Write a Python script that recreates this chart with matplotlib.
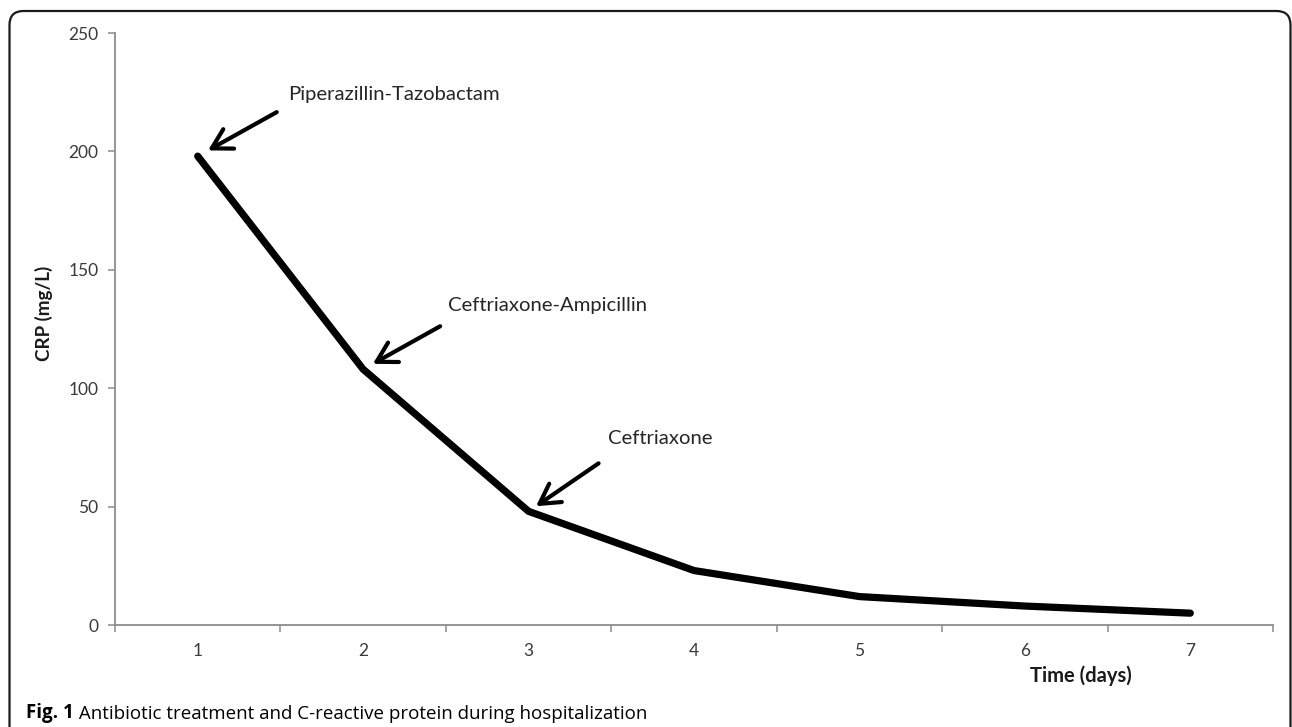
import matplotlib
matplotlib.use("Agg")
import matplotlib.pyplot as plt
from matplotlib.patches import FancyBboxPatch
from matplotlib.transforms import IdentityTransform

# ---- data ----
days = [1, 2, 3, 4, 5, 6, 7]
crp = [198, 108, 48, 23, 12, 8, 5]
day_labels = ["1", "2", "3", "4", "5", "6", "7"]
y_ticks = [0, 50, 100, 150, 200, 250]
treatments = ["Piperazillin-Tazobactam", "Ceftriaxone-Ampicillin", "Ceftriaxone"]
treatment_days = [1, 2, 3]
x_label = "Time (days)"
y_label = "CRP (mg/L)"
caption_bold = "Fig. 1"
caption_text = " Antibiotic treatment and C-reactive protein during hospitalization"

W, H, DPI = 1292, 727, 100
fig = plt.figure(figsize=(W / DPI, H / DPI), dpi=DPI)
fig.patch.set_facecolor("white")

chart_font = ["Lato", "DejaVu Sans"]
cap_font = ["Open Sans", "DejaVu Sans"]

ax = fig.add_axes([115 / W, 1 - 625 / H, (1273 - 115) / W, (625 - 33) / H])
ax.plot(days, crp, color="black", lw=5.2, solid_capstyle="round",
        solid_joinstyle="miter", zorder=3)

ax.set_xlim(0.5, 7.5)
ax.set_ylim(0, 250)
ax.set_yticks(y_ticks)
ax.set_xticks(days)
ax.set_xticklabels(day_labels)
ax.set_xticks([d - 0.5 for d in days] + [days[-1] + 0.5], minor=True)

spine_col = "#8c8c8c"
for s in ["top", "right"]:
    ax.spines[s].set_visible(False)
for s in ["left", "bottom"]:
    ax.spines[s].set_color(spine_col)
    ax.spines[s].set_linewidth(1.3)

ax.tick_params(axis="y", which="major", direction="out", length=5, width=1.1,
               color=spine_col, pad=7, labelsize=12.5, labelcolor="#3a3a3a")
ax.tick_params(axis="x", which="major", length=0, pad=13, labelsize=12.5,
               labelcolor="#3a3a3a")
ax.tick_params(axis="x", which="minor", direction="out", length=5, width=1.1,
               color=spine_col)
for lab in ax.get_xticklabels() + ax.get_yticklabels():
    lab.set_family(chart_font)

ax.set_xlabel(x_label, fontsize=14.5, fontweight="bold", family=chart_font,
              ha="right", va="center", color="#1a1a1a")
ax.xaxis.set_label_coords((1132 - 115) / 1158, (625 - 676) / 592)
ax.set_ylabel(y_label, fontsize=13.5, fontweight="bold", family=chart_font,
              ha="center", va="center", color="#1a1a1a")
ax.yaxis.set_label_coords((44 - 115) / 1158, (625 - 313) / 592)

# annotations (offsets in pixels relative to the data point)
arrow_tail = [(79, 44), (77, 43), (70, 48)]
arrow_shrink = [8.5, 8.0, 6.5]
text_off = [(90, 62), (85, 64), (79, 73)]
for name, d, tail, shr, toff in zip(treatments, treatment_days, arrow_tail,
                                    arrow_shrink, text_off):
    val = crp[days.index(d)]
    ax.annotate("", xy=(d, val), xytext=tail, textcoords="offset pixels",
                arrowprops=dict(arrowstyle="->, head_length=0.7, head_width=0.4",
                                mutation_scale=20, lw=3.0, color="black",
                                shrinkA=0, shrinkB=shr),
                zorder=4, annotation_clip=False)
    ax.annotate(name, xy=(d, val), xytext=toff, textcoords="offset pixels",
                ha="left", va="center", fontsize=14.6, family=chart_font,
                color="#262626", annotation_clip=False)

# caption
t1 = fig.text(26 / W, 1 - 713 / H, caption_bold, fontsize=13.5, fontweight="bold",
              family=cap_font, ha="left", va="center", color="black")
fig.canvas.draw()
ax.annotate(caption_text, xy=(1, 0), xycoords=t1, ha="left", va="bottom",
            fontsize=13.5, family=cap_font, color="black", annotation_clip=False)

# rounded border
border = FancyBboxPatch((9.5, -30), 1290.5 - 9.5, (H - 11) + 30,
                        boxstyle="round,pad=0,rounding_size=14",
                        transform=IdentityTransform(), fill=False,
                        edgecolor="#1a1a1a", lw=1.6)
fig.patches.append(border)

fig.savefig("out.png", dpi=DPI)
